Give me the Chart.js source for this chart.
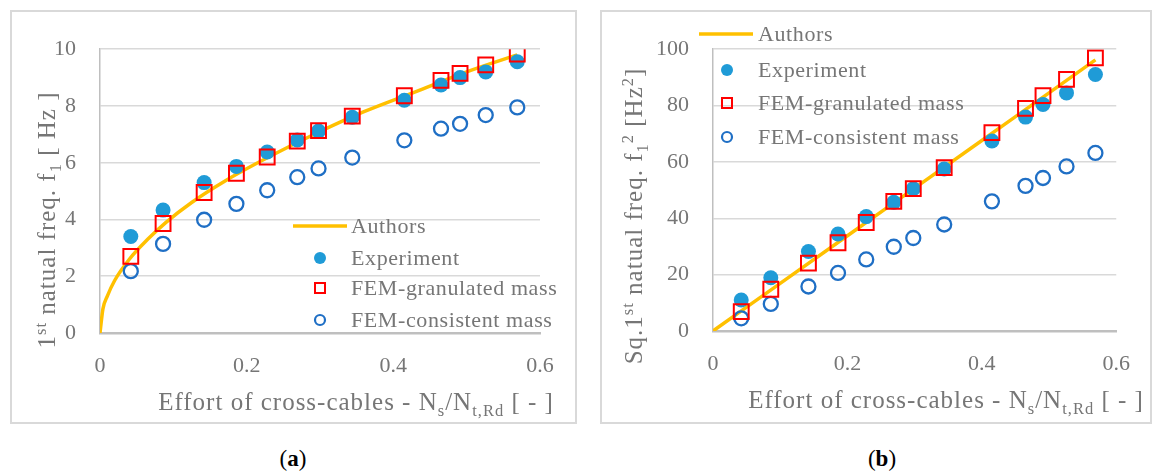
<!DOCTYPE html>
<html>
<head>
<meta charset="utf-8">
<script src="https://cdn.jsdelivr.net/npm/chart.js@4/dist/chart.umd.min.js"></script>
<style>
  html, body { margin: 0; padding: 0; background: #fff; }
  body { width: 1156px; height: 475px; position: relative; overflow: hidden; font-family: "Liberation Serif", serif; }
  .panel { position: absolute; top: 10px; height: 414px; box-sizing: border-box; border: 2px solid #d9d9d9; }
  #panelA { left: 10px; width: 567px; }
  #panelB { left: 600px; width: 552px; }
  .caption { position: absolute; top: 446px; font-size: 23px; color: #000; width: 60px; text-align: center; }
  #capA { left: 263px; }
  #capB { left: 852px; }
</style>
</head>
<body>
<div class="panel" id="panelA"><canvas id="chartA"></canvas></div>
<div class="panel" id="panelB"><canvas id="chartB"></canvas></div>
<div class="caption" id="capA">(<b>a</b>)</div>
<div class="caption" id="capB">(<b>b</b>)</div>
<script>
// ── Data ─────────────────────────────────────────────────────────────────
const xEffort      = [0.042, 0.086, 0.142, 0.186, 0.228, 0.269, 0.298, 0.344, 0.415, 0.465, 0.491, 0.526, 0.569];
const fExperiment  = [3.40, 4.33, 5.30, 5.87, 6.38, 6.80, 7.12, 7.60, 8.20, 8.74, 9.00, 9.20, 9.56];
const fGranulated  = [2.70, 3.86, 4.95, 5.63, 6.20, 6.76, 7.13, 7.64, 8.36, 8.90, 9.15, 9.45, 9.83];
const fConsistent  = [2.18, 3.14, 3.99, 4.55, 5.03, 5.49, 5.80, 6.18, 6.79, 7.20, 7.37, 7.68, 7.95];
const xAuthorsA    = [0, 0.004, 0.01, 0.02, 0.04, 0.065, 0.09, 0.125, 0.17, 0.23, 0.30, 0.36, 0.43, 0.50, 0.569];
const fAuthors     = [0, 0.85, 1.30, 1.85, 2.60, 3.30, 3.90, 4.60, 5.35, 6.20, 7.10, 7.80, 8.50, 9.20, 9.80];

const f2Experiment = [11.0, 18.9, 28.2, 34.4, 40.6, 45.7, 50.5, 57.5, 67.4, 75.9, 80.4, 84.5, 91.0];
const f2Granulated = [6.9, 14.8, 24.1, 31.3, 38.5, 46.0, 50.5, 58.0, 70.4, 79.0, 83.5, 89.3, 96.9];
const f2Consistent = [4.5, 9.6, 15.8, 20.6, 25.4, 29.9, 33.0, 37.8, 46.0, 51.5, 54.3, 58.4, 63.2];
const xAuthorsB    = [0, 0.1, 0.2, 0.3, 0.4, 0.5, 0.569];
const f2Authors    = [0, 16.9, 33.8, 50.7, 67.6, 84.5, 96.2];

const xTicks  = ["0", "0.2", "0.4", "0.6"];
const yTicksA = ["0", "2", "4", "6", "8", "10"];
const yTicksB = ["0", "20", "40", "60", "80", "100"];
const seriesNames = ["Authors", "Experiment", "FEM-granulated mass", "FEM-consistent mass"];

// ── Styles ───────────────────────────────────────────────────────────────
const FONT = "Liberation Serif";
const TXT  = "#767676";
const C_LINE = "#ffc000", C_EXP = "#1f9bd7", C_GRAN = "#ff0000", C_CONS = "#1f6fc5";

const pts = (xs, ys) => xs.map((x, i) => ({ x, y: ys[i] }));

// rich text: segments with optional sub / sup
function richWidth(ctx, parts, size) {
    let w = 0;
    parts.forEach(p => {
        const s = p.s ? size * 0.66 : size;
        ctx.font = `${s}px "${FONT}"`;
        w += ctx.measureText(p.t).width;
    });
    return w;
}
function drawRich(ctx, parts, x, y, size) {
    let cx = x;
    parts.forEach(p => {
        const s = p.s ? size * 0.66 : size;
        const dy = p.s === "sub" ? size * 0.22 : p.s === "sup" ? -size * 0.36 : 0;
        ctx.font = `${s}px "${FONT}"`;
        ctx.fillText(p.t, cx, y + dy);
        cx += ctx.measureText(p.t).width;
    });
}

function makeDecor(cfg) {
    return {
        id: "decor",
        afterDraw(chart) {
            const ctx = chart.ctx;
            ctx.save();
            ctx.fillStyle = TXT;
            ctx.textBaseline = "alphabetic";
            ctx.textAlign = "left";
            ctx.letterSpacing = "1px";

            // x title
            const wx = richWidth(ctx, cfg.xTitle, cfg.titleSize);
            drawRich(ctx, cfg.xTitle, cfg.xTitleCx - wx / 2, cfg.xTitleBase, cfg.titleSize);

            // y title (rotated)
            const wy = richWidth(ctx, cfg.yTitle, cfg.titleSize);
            ctx.save();
            ctx.translate(cfg.yTitleBase, cfg.yTitleCy);
            ctx.rotate(-Math.PI / 2);
            drawRich(ctx, cfg.yTitle, -wy / 2, 0, cfg.titleSize);
            ctx.restore();

            // legend
            const L = cfg.legend;
            ctx.letterSpacing = "0.6px";
            chart.data.datasets.forEach((ds, i) => {
                const y = L.ys[i];
                if (ds.showLine) {
                    ctx.strokeStyle = ds.borderColor;
                    ctx.lineWidth = ds.borderWidth;
                    ctx.beginPath();
                    ctx.moveTo(L.lineX0, y);
                    ctx.lineTo(L.lineX1, y);
                    ctx.stroke();
                } else if (ds.pointStyle === "rect") {
                    ctx.strokeStyle = ds.borderColor;
                    ctx.lineWidth = 2;
                    ctx.strokeRect(L.markX - 5, y - 5, 10, 10);
                } else {
                    ctx.beginPath();
                    ctx.arc(L.markX, y, ds.backgroundColor === "transparent" ? 5 : 6, 0, Math.PI * 2);
                    if (ds.backgroundColor === "transparent") {
                        ctx.strokeStyle = ds.borderColor;
                        ctx.lineWidth = 2.2;
                        ctx.stroke();
                    } else {
                        ctx.fillStyle = ds.backgroundColor;
                        ctx.fill();
                    }
                }
                ctx.fillStyle = TXT;
                ctx.font = `${L.size}px "${FONT}"`;
                ctx.textBaseline = "middle";
                ctx.fillText(ds.label, L.textX, y + 1);
                ctx.textBaseline = "alphabetic";
            });
            ctx.restore();
        }
    };
}

function datasets(xLine, yLine, yExp, yGran, yCons) {
    return [
        { label: seriesNames[0], data: pts(xLine, yLine), showLine: true, pointRadius: 0,
          borderColor: C_LINE, backgroundColor: C_LINE, borderWidth: 3.5,
          cubicInterpolationMode: "monotone", order: 4 },
        { label: seriesNames[1], data: pts(xEffort, yExp), pointStyle: "circle", pointRadius: 7.5,
          backgroundColor: C_EXP, borderColor: C_EXP, borderWidth: 0, order: 3 },
        { label: seriesNames[2], data: pts(xEffort, yGran), pointStyle: "rect", pointRadius: 10.5,
          backgroundColor: "transparent", borderColor: C_GRAN, borderWidth: 2, order: 1 },
        { label: seriesNames[3], data: pts(xEffort, yCons), pointStyle: "circle", pointRadius: 7,
          backgroundColor: "transparent", borderColor: C_CONS, borderWidth: 2.3, order: 2 },
    ];
}

function makeOptions(yMax, yStep, yLabels, yWidth, xHeight, padRight) {
    return {
        responsive: true,
        maintainAspectRatio: false,
        animation: false,
        events: [],
        layout: { padding: { top: 28, right: padRight, left: 0, bottom: 0 } },
        plugins: { legend: { display: false }, tooltip: { enabled: false } },
        scales: {
            x: {
                type: "linear", min: 0, max: 0.6,
                afterFit: s => { s.height = xHeight; },
                afterBuildTicks: s => { s.ticks = xTicks.map(t => ({ value: parseFloat(t) })); },
                ticks: { callback: (v, i) => xTicks[i], color: TXT, font: { family: FONT, size: 22 }, padding: 20, maxRotation: 0 },
                grid: { display: false, drawTicks: false },
                border: { display: true, color: "#bfbfbf", width: 2.5 }
            },
            y: {
                type: "linear", min: 0, max: yMax,
                afterFit: s => { s.width = yWidth; },
                afterBuildTicks: s => { s.ticks = yLabels.map(t => ({ value: parseFloat(t) })); },
                ticks: { callback: (v, i) => yLabels[i], color: TXT, font: { family: FONT, size: 22 }, padding: 24 },
                grid: { color: "#d9d9d9", lineWidth: 1.5, drawTicks: false },
                border: { display: true, color: "#bfbfbf", width: 1.5 }
            }
        }
    };
}

new Chart(document.getElementById("chartA"), {
    type: "scatter",
    data: { datasets: datasets(xAuthorsA, fAuthors, fExperiment, fGranulated, fConsistent) },
    options: makeOptions(10, 2, yTicksA, 88, 89, 35),
    plugins: [makeDecor({
        titleSize: 25,
        xTitle: [{ t: "Effort of cross-cables - N" }, { t: "s", s: "sub" }, { t: "/N" }, { t: "t,Rd", s: "sub" }, { t: " [ - ]" }],
        xTitleCx: 344, xTitleBase: 398,
        yTitle: [{ t: "1" }, { t: "st", s: "sup" }, { t: " natual freq. f" }, { t: "1", s: "sub" }, { t: " [ Hz ]" }],
        yTitleBase: 43, yTitleCy: 208,
        legend: { ys: [214, 246, 276, 308], lineX0: 281, lineX1: 335, markX: 308, textX: 339, size: 22 }
    })]
});

new Chart(document.getElementById("chartB"), {
    type: "scatter",
    data: { datasets: datasets(xAuthorsB, f2Authors, f2Experiment, f2Granulated, f2Consistent) },
    options: makeOptions(100, 20, yTicksB, 111, 91, 20),
    plugins: [makeDecor({
        titleSize: 25,
        xTitle: [{ t: "Effort of cross-cables - N" }, { t: "s", s: "sub" }, { t: "/N" }, { t: "t,Rd", s: "sub" }, { t: " [ - ]" }],
        xTitleCx: 344, xTitleBase: 396,
        yTitle: [{ t: "Sq.1" }, { t: "st", s: "sup" }, { t: " natual freq. f" }, { t: "1", s: "sub" }, { t: "2", s: "sup" }, { t: " [Hz" }, { t: "2", s: "sup" }, { t: "]" }],
        yTitleBase: 40, yTitleCy: 204,
        legend: { ys: [22, 58, 91, 125], lineX0: 97, lineX1: 151, markX: 125, textX: 156, size: 22 }
    })]
});
</script>
</body>
</html>
